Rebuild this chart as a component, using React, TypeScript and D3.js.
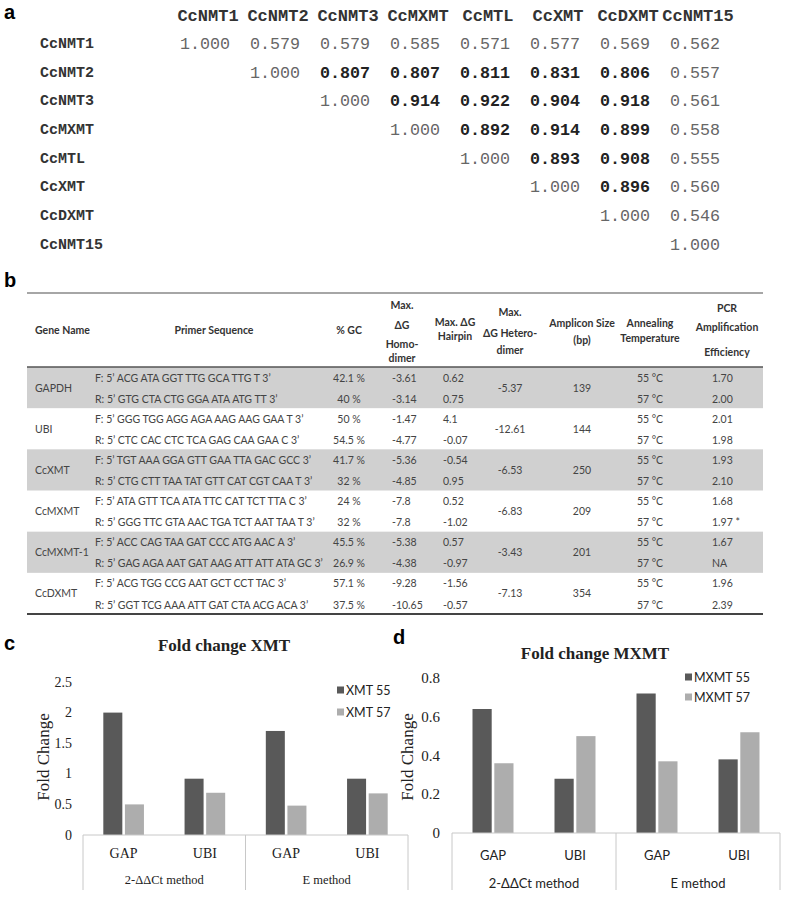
import React from 'react';
import * as d3 from 'd3';

// ---------- Panel a data ----------
const matrixNames = ["CcNMT1", "CcNMT2", "CcNMT3", "CcMXMT", "CcMTL", "CcXMT", "CcDXMT", "CcNMT15"];
const rowCcNMT1 = [1.0, 0.579, 0.579, 0.585, 0.571, 0.577, 0.569, 0.562];
const rowCcNMT2 = [1.0, 0.807, 0.807, 0.811, 0.831, 0.806, 0.557];
const rowCcNMT3 = [1.0, 0.914, 0.922, 0.904, 0.918, 0.561];
const rowCcMXMT = [1.0, 0.892, 0.914, 0.899, 0.558];
const rowCcMTL = [1.0, 0.893, 0.908, 0.555];
const rowCcXMT = [1.0, 0.896, 0.56];
const rowCcDXMT = [1.0, 0.546];
const rowCcNMT15 = [1.0];
const matrixRows = [rowCcNMT1, rowCcNMT2, rowCcNMT3, rowCcMXMT, rowCcMTL, rowCcXMT, rowCcDXMT, rowCcNMT15];

// ---------- Panel b data ----------
const genes = ["GAPDH", "UBI", "CcXMT", "CcMXMT", "CcMXMT-1", "CcDXMT"];
const primerF = [
  "F: 5\u2019 ACG ATA GGT TTG GCA TTG T 3\u2019",
  "F: 5\u2019 GGG TGG AGG AGA AAG AAG GAA T 3\u2019",
  "F: 5\u2019 TGT AAA GGA GTT GAA TTA GAC GCC 3\u2019",
  "F: 5\u2019 ATA GTT TCA ATA TTC CAT TCT TTA C 3\u2019",
  "F: 5\u2019 ACC CAG TAA GAT CCC ATG AAC A 3\u2019",
  "F: 5\u2019 ACG TGG CCG AAT GCT CCT TAC 3\u2019",
];
const primerR = [
  "R: 5\u2019 GTG CTA CTG GGA ATA ATG TT 3\u2019",
  "R: 5\u2019 CTC CAC CTC TCA GAG CAA GAA C 3\u2019",
  "R:  5\u2019 CTG CTT TAA TAT GTT CAT CGT CAA T 3\u2019",
  "R: 5\u2019 GGG TTC GTA AAC TGA TCT AAT TAA T 3\u2019",
  "R: 5\u2019 GAG AGA AAT GAT AAG ATT ATT ATA GC 3\u2019",
  "R: 5\u2019 GGT TCG AAA ATT GAT CTA ACG ACA 3\u2019",
];
const gcF = ["42.1 %", "50 %", "41.7 %", "24 %", "45.5 %", "57.1 %"];
const gcR = ["40 %", "54.5 %", "32 %", "32 %", "26.9 %", "37.5 %"];
const homoF = ["-3.61", "-1.47", "-5.36", "-7.8", "-5.38", "-9.28"];
const homoR = ["-3.14", "-4.77", "-4.85", "-7.8", "-4.38", "-10.65"];
const hairF = ["0.62", "4.1", "-0.54", "0.52", "0.57", "-1.56"];
const hairR = ["0.75", "-0.07", "0.95", "-1.02", "-0.97", "-0.57"];
const hetero = ["-5.37", "-12.61", "-6.53", "-6.83", "-3.43", "-7.13"];
const amplicon = ["139", "144", "250", "209", "201", "354"];
const annealF = ["55 \u00B0C", "55 \u00B0C", "55 \u00B0C", "55 \u00B0C", "55 \u00B0C", "55 \u00B0C"];
const annealR = ["57 \u00B0C", "57 \u00B0C", "57 \u00B0C", "57 \u00B0C", "57 \u00B0C", "57 \u00B0C"];
const effF = ["1.70", "2.01", "1.93", "1.68", "1.67", "1.96"];
const effR = ["2.00", "1.98", "2.10", "1.97 *", "NA", "2.39"];

// ---------- Panels c, d data ----------
const refGenes = ["GAP", "UBI", "GAP", "UBI"];
const methods = ["2-\u0394\u0394Ct method", "E method"];
const xmtSeries = ["XMT 55", "XMT 57"];
const xmt55 = [2.0, 0.92, 1.7, 0.92];
const xmt57 = [0.5, 0.69, 0.48, 0.68];
const xmtTicks = [0, 0.5, 1, 1.5, 2, 2.5];
const mxmtSeries = ["MXMT 55", "MXMT 57"];
const mxmt55 = [0.64, 0.28, 0.72, 0.38];
const mxmt57 = [0.36, 0.5, 0.37, 0.52];
const mxmtTicks = [0, 0.2, 0.4, 0.6, 0.8];

const MONO = "'Courier New', 'Liberation Mono', monospace";
const SANS = "Lato, 'Open Sans', Arial, sans-serif";
const SERIF = "'Liberation Serif', 'Times New Roman', serif";
const ARIAL = "'Liberation Sans', Arial, sans-serif";
const DARK = "#595959";
const LIGHT = "#adadad";

function BarPanel(props: any) {
  const {
    letter, letterX, letterY, title, titleX, titleY, xRange, yRange, yMax, ticks, tickSize,
    tickX, yTitleX, yTitleY, series, v1, v2, legendX, legendY, catY, methY, sepBottom, catFont,
    catSize, methSize,
  } = props;
  const idx = refGenes.map((_, i) => String(i));
  const x = d3.scaleBand().domain(idx).range(xRange).paddingInner(0.5).paddingOuter(0.25);
  const xs = d3.scaleBand().domain(series).range([0, x.bandwidth()]).paddingInner(0.12);
  const y = d3.scaleLinear().domain([0, yMax]).range(yRange);
  const [xa, xb] = xRange;
  const mid = (xa + xb) / 2;
  const vals = [v1, v2];
  return (
    <g>
      <text x={letterX} y={letterY} fontFamily={ARIAL} fontWeight="bold" fontSize={20} dominantBaseline="central">{letter}</text>
      <text x={titleX} y={titleY} fontFamily={SERIF} fontWeight="bold" fontSize={17} textAnchor="middle" dominantBaseline="central" fill="#222">{title}</text>
      {ticks.map((t: number) => (
        <text key={t} x={tickX} y={y(t)} textAnchor="end" dominantBaseline="central" fontFamily={SERIF} fontSize={tickSize} fill="#222">{String(t)}</text>
      ))}
      <text transform={`translate(${yTitleX},${yTitleY}) rotate(-90)`} textAnchor="middle" dominantBaseline="central" fontFamily={SERIF} fontSize={17} fill="#222">Fold Change</text>
      {vals.map((arr: number[], s: number) =>
        arr.map((v, i) => (
          <rect key={`${s}-${i}`} x={(x(String(i)) as number) + (xs(series[s]) as number)} y={y(v)} width={xs.bandwidth()} height={y(0) - y(v)} fill={s === 0 ? DARK : LIGHT} />
        ))
      )}
      <line x1={xa} x2={xb} y1={y(0)} y2={y(0)} stroke="#c8c8c8" strokeWidth={1} />
      {[xa, mid, xb].map((sx, i) => (
        <line key={i} x1={sx} x2={sx} y1={y(0)} y2={sepBottom} stroke="#c8c8c8" strokeWidth={1} />
      ))}
      {refGenes.map((g, i) => (
        <text key={i} x={(x(String(i)) as number) + x.bandwidth() / 2} y={catY} textAnchor="middle" dominantBaseline="central" fontFamily={catFont} fontSize={catSize} fill="#222">{g}</text>
      ))}
      {methods.map((m, i) => (
        <text key={m} x={i === 0 ? (xa + mid) / 2 : (mid + xb) / 2} y={methY} textAnchor="middle" dominantBaseline="central" fontFamily={catFont} fontSize={methSize} fill="#222">{m}</text>
      ))}
      {series.map((s: string, i: number) => (
        <g key={s}>
          <rect x={legendX} y={legendY[i] - 3.5} width={7} height={7} fill={i === 0 ? DARK : LIGHT} />
          <text x={legendX + 9} y={legendY[i]} dominantBaseline="central" fontFamily={SANS} fontSize={12.5} fill="#222">{s}</text>
        </g>
      ))}
    </g>
  );
}

export default function App() {
  const W = 787, H = 901;
  // Panel a scales
  const xCol = d3.scalePoint().domain(matrixNames).range([180, 670]);
  const yRow = d3.scalePoint().domain(["header", ...matrixNames]).range([16, 245]);
  const valW = 50;

  // Panel b scales
  const tableLeft = 27, tableRight = 763;
  const yBand = d3.scaleBand().domain(genes).range([367, 614]);
  const bh = yBand.bandwidth();
  const colX = { gene: 35, primer: 95, gc: 349, homo: 402, hair: 443, het: 510, amp: 582, ann: 650, eff: 712 };

  const hdr = (x: number, y: number, t: string, anchor = "middle") => (
    <text key={t + x + y} x={x} y={y} textAnchor={anchor} dominantBaseline="central" fontFamily={SANS} fontWeight="bold" fontSize={10.5} fill="#333">{t}</text>
  );
  const cell = (x: number, y: number, t: string, anchor = "middle") => (
    <text x={x} y={y} textAnchor={anchor} dominantBaseline="central" fontFamily={SANS} fontSize={10.5} fill="#444">{t}</text>
  );

  return (
    <svg width={W} height={H} style={{ position: 'absolute', left: 0, top: 0 }}>
      <rect width={W} height={H} fill="#fff" />
      {/* Panel a */}
      <text x={4} y={12} fontFamily={ARIAL} fontWeight="bold" fontSize={20} dominantBaseline="central">a</text>
      {matrixNames.map((n) => (
        <text key={"h" + n} x={(xCol(n) as number) + valW / 2 + 3} y={yRow("header")} textAnchor="middle" dominantBaseline="central" fontFamily={MONO} fontWeight="bold" fontSize={17} fill="#333">{n}</text>
      ))}
      {matrixNames.map((n, r) => (
        <g key={"r" + n}>
          <text x={40} y={yRow(n)} dominantBaseline="central" fontFamily={MONO} fontWeight="bold" fontSize={15} fill="#333">{n}</text>
          {matrixRows[r].map((v, k) => {
            const c = matrixNames[r + k];
            const bold = v >= 0.8 && v < 1;
            return (
              <text key={c} x={xCol(c)} y={yRow(n)} dominantBaseline="central" fontFamily={MONO} fontWeight={bold ? "bold" : "normal"} fontSize={16.7} fill={bold ? "#222" : "#666"}>{v.toFixed(3)}</text>
            );
          })}
        </g>
      ))}

      {/* Panel b */}
      <text x={4} y={280} fontFamily={ARIAL} fontWeight="bold" fontSize={20} dominantBaseline="central">b</text>
      {genes.map((g, i) => i % 2 === 0 ? (
        <rect key={"band" + g} x={tableLeft} y={yBand(g)} width={tableRight - tableLeft} height={bh} fill="#d0d0d0" />
      ) : null)}
      <line x1={tableLeft} x2={tableRight} y1={293} y2={293} stroke="#888" strokeWidth={1.5} />
      <line x1={tableLeft} x2={tableRight} y1={367} y2={367} stroke="#555" strokeWidth={1.5} />
      <line x1={tableLeft} x2={tableRight} y1={614} y2={614} stroke="#444" strokeWidth={2} />
      {hdr(colX.gene, 330, "Gene Name", "start")}
      {hdr(214, 330, "Primer Sequence")}
      {hdr(colX.gc, 330, "% GC")}
      {hdr(colX.homo, 305, "Max.")}
      {hdr(colX.homo, 325, "\u0394G")}
      {hdr(colX.homo, 344, "Homo-")}
      {hdr(colX.homo, 358, "dimer")}
      {hdr(455, 322, "Max. \u0394G")}
      {hdr(455, 336, "Hairpin")}
      {hdr(colX.het, 312, "Max.")}
      {hdr(colX.het, 333, "\u0394G Hetero-")}
      {hdr(colX.het, 350, "dimer")}
      {hdr(colX.amp, 323, "Amplicon Size")}
      {hdr(colX.amp, 340, "(bp)")}
      {hdr(colX.ann, 323, "Annealing")}
      {hdr(colX.ann, 338, "Temperature")}
      {hdr(727, 308, "PCR")}
      {hdr(727, 327, "Amplification")}
      {hdr(727, 352, "Efficiency")}
      {genes.map((g, i) => {
        const top = yBand(g) as number;
        const yF = top + 10.5, yR = top + bh - 9.5, yM = top + bh / 2;
        return (
          <g key={"row" + g}>
            {cell(colX.gene, yM, g, "start")}
            {cell(colX.primer, yF, primerF[i], "start")}
            {cell(colX.primer, yR, primerR[i], "start")}
            {cell(colX.gc, yF, gcF[i])}
            {cell(colX.gc, yR, gcR[i])}
            {cell(colX.homo - 10, yF, homoF[i], "start")}
            {cell(colX.homo - 10, yR, homoR[i], "start")}
            {cell(colX.hair, yF, hairF[i], "start")}
            {cell(colX.hair, yR, hairR[i], "start")}
            {cell(colX.het, yM, hetero[i])}
            {cell(colX.amp, yM, amplicon[i])}
            {cell(colX.ann, yF, annealF[i])}
            {cell(colX.ann, yR, annealR[i])}
            {cell(colX.eff, yF, effF[i], "start")}
            {cell(colX.eff, yR, effR[i], "start")}
          </g>
        );
      })}

      {/* Panel c */}
      <BarPanel letter="c" letterX={4} letterY={643} title="Fold change XMT" titleX={224} titleY={645}
        xRange={[83, 408]} yRange={[835, 682]} yMax={2.5} ticks={xmtTicks} tickX={72} tickSize={14}
        yTitleX={43} yTitleY={757} series={xmtSeries} v1={xmt55} v2={xmt57}
        legendX={337} legendY={[690, 712]} catY={853} methY={880} sepBottom={890} catFont={SERIF}
        catSize={14} methSize={12.5} />
      {/* Panel d */}
      <BarPanel letter="d" letterX={393} letterY={637} title="Fold change MXMT" titleX={595} titleY={653}
        xRange={[452, 780]} yRange={[833, 678]} yMax={0.8} ticks={mxmtTicks} tickX={440} tickSize={15}
        yTitleX={407} yTitleY={757} series={mxmtSeries} v1={mxmt55} v2={mxmt57}
        legendX={685} legendY={[677, 697]} catY={855} methY={883} sepBottom={890} catFont={SANS}
        catSize={13} methSize={13} />
    </svg>
  );
}
